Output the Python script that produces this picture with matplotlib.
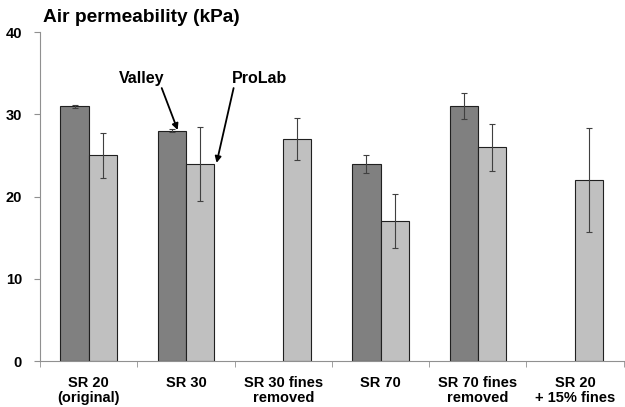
import numpy as np
import matplotlib.pyplot as plt

plt.rcParams['font.family'] = ['Liberation Sans', 'DejaVu Sans']

categories = ['SR 20\n(original)', 'SR 30', 'SR 30 fines\nremoved', 'SR 70',
              'SR 70 fines\nremoved', 'SR 20\n+ 15% fines']
valley = [31, 28, np.nan, 24, 31, np.nan]
valley_err = [0.2, 0.2, np.nan, 1.1, 1.6, np.nan]
prolab = [25, 24, 27, 17, 26, 22]
prolab_err = [2.75, 4.5, 2.6, 3.3, 2.85, 6.3]

fig = plt.figure(figsize=(6.25, 4.07), dpi=100)
ax = fig.add_axes([0.064, 0.113, 0.934, 0.808])

x = np.arange(len(categories))
w = 0.29
ax.bar(x - w/2, valley, w, color='#808080', edgecolor='#202020', linewidth=0.8)
ax.bar(x + w/2, prolab, w, color='#c0c0c0', edgecolor='#202020', linewidth=0.8)
ax.errorbar(x - w/2, valley, yerr=valley_err, fmt='none', ecolor='#404040',
            elinewidth=0.8, capsize=2, capthick=0.8)
ax.errorbar(x + w/2, prolab, yerr=prolab_err, fmt='none', ecolor='#404040',
            elinewidth=0.8, capsize=2, capthick=0.8)

ax.set_xlim(-0.5, len(categories) - 0.5)
ax.set_ylim(0, 40)
ax.set_yticks([0, 10, 20, 30, 40])
ax.set_xticks(x)
ax.set_xticklabels(categories, fontsize=10.5, fontweight='bold', linespacing=1.1)
ax.set_xticks(np.arange(-0.5, len(categories)), minor=True)
ax.tick_params(axis='x', which='major', length=0, pad=11)
ax.tick_params(axis='x', which='minor', length=4, color='#909090')
ax.tick_params(axis='y', length=4, color='#909090', labelsize=10.5, pad=9)
for lab in ax.get_yticklabels():
    lab.set_fontweight('bold')

for s in ['top', 'right']:
    ax.spines[s].set_visible(False)
ax.spines['left'].set_color('#909090')
ax.spines['bottom'].set_color('#909090')

fig.text(0.069, 0.957, 'Air permeability (kPa)', fontsize=13.8, fontweight='bold',
         ha='left', va='center')

ax.text(0.546, 34.4, 'Valley', fontsize=11.5, fontweight='bold', ha='center', va='center')
ax.annotate('', xy=(0.915, 28.1), xytext=(0.751, 33.2),
            arrowprops=dict(arrowstyle='-|>', color='black', lw=1.3,
                            mutation_scale=9, shrinkA=0, shrinkB=0))
ax.text(1.756, 34.4, 'ProLab', fontsize=11.5, fontweight='bold', ha='center', va='center')
ax.annotate('', xy=(1.315, 24.1), xytext=(1.49, 33.2),
            arrowprops=dict(arrowstyle='-|>', color='black', lw=1.3,
                            mutation_scale=9, shrinkA=0, shrinkB=0))

fig.savefig('out.png', dpi=100)
